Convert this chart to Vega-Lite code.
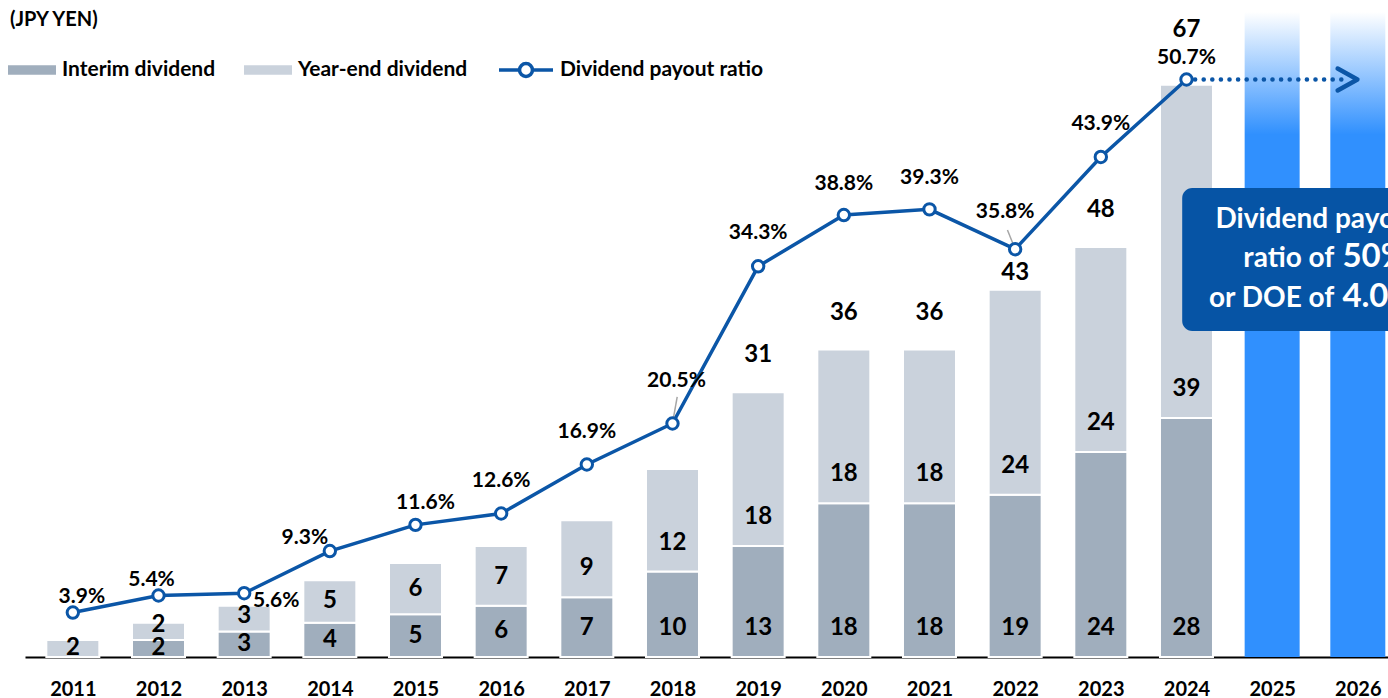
{
  "$schema": "https://vega.github.io/schema/vega-lite/v6.json",
  "width": 1363,
  "height": 647,
  "autosize": "none",
  "padding": {"left": 25, "top": 10, "right": 0, "bottom": 41},
  "background": "white",
  "config": {
    "font": "Lato",
    "view": {"stroke": null},
    "legend": {"labelFont": "Lato", "labelFontSize": 21, "labelFontWeight": "bold", "labelColor": "#000000", "labelLimit": 0}
  },
  "title": {"text": "(JPY YEN)", "anchor": "start", "frame": "group", "orient": "top", "fontSize": 20, "fontWeight": "bold", "color": "#000000", "dx": -15, "offset": 0, "baseline": "top", "dy": 20},
  "datasets": {
    "div": [
      {"year": 2011, "interim": 0, "yearend": 2, "ratio": 3.9},
      {"year": 2012, "interim": 2, "yearend": 2, "ratio": 5.4},
      {"year": 2013, "interim": 3, "yearend": 3, "ratio": 5.6},
      {"year": 2014, "interim": 4, "yearend": 5, "ratio": 9.3},
      {"year": 2015, "interim": 5, "yearend": 6, "ratio": 11.6},
      {"year": 2016, "interim": 6, "yearend": 7, "ratio": 12.6},
      {"year": 2017, "interim": 7, "yearend": 9, "ratio": 16.9},
      {"year": 2018, "interim": 10, "yearend": 12, "ratio": 20.5},
      {"year": 2019, "interim": 13, "yearend": 18, "ratio": 34.3},
      {"year": 2020, "interim": 18, "yearend": 18, "ratio": 38.8},
      {"year": 2021, "interim": 18, "yearend": 18, "ratio": 39.3},
      {"year": 2022, "interim": 19, "yearend": 24, "ratio": 35.8},
      {"year": 2023, "interim": 24, "yearend": 24, "ratio": 43.9},
      {"year": 2024, "interim": 28, "yearend": 39, "ratio": 50.7}
    ],
    "future": [{"year": 2025}, {"year": 2026}]
  },
  "encoding": {
    "x": {
      "field": "year", "type": "quantitative",
      "scale": {"domain": [2010.5, 2026.294], "nice": false, "zero": false},
      "axis": {
        "title": null, "values": [2011, 2012, 2013, 2014, 2015, 2016, 2017, 2018, 2019, 2020, 2021, 2022, 2023, 2024, 2025, 2026],
        "format": "d", "labelFontSize": 20, "labelFontWeight": "bold", "labelColor": "#000000", "labelFont": "Lato",
        "labelPadding": 22, "ticks": false, "grid": false, "domainColor": "#000000", "domainWidth": 2,
        "labelOverlap": false, "labelFlush": false, "labelBound": false
      }
    }
  },
  "layer": [
    {
      "layer": [
        {
          "data": {"name": "future"},
          "mark": {"type": "bar", "width": 55, "clip": true,
            "color": {"gradient": "linear", "x1": 0, "y1": 0, "x2": 0, "y2": 1,
              "stops": [{"offset": 0, "color": "#ffffff"}, {"offset": 0.19, "color": "#3090fe"}, {"offset": 1, "color": "#3090fe"}]}},
          "encoding": {
            "y": {"datum": 75.53, "type": "quantitative", "scale": {"domain": [0, 75.76], "nice": false, "zero": true}, "axis": null},
            "y2": {"datum": 0}
          }
        },
        {
          "data": {"name": "div"},
          "transform": [
            {"fold": ["interim", "yearend"], "as": ["type", "value"]},
            {"filter": "datum.value > 0"},
            {"stack": "value", "groupby": ["year"], "sort": [{"field": "type", "order": "ascending"}], "as": ["v0", "v1"]}
          ],
          "layer": [
            {
              "mark": {"type": "bar", "width": 53, "stroke": "white", "strokeWidth": 2},
              "encoding": {
                "y": {"field": "v1", "type": "quantitative", "scale": {"domain": [0, 75.76], "nice": false, "zero": true}, "axis": null},
                "y2": {"field": "v0"},
                "color": {
                  "field": "type", "type": "nominal",
                  "scale": {"domain": ["interim", "yearend"], "range": ["#a0aebd", "#cad2dc"]},
                  "legend": {
                    "orient": "none", "legendX": -17, "legendY": 36, "direction": "horizontal", "title": null,
                    "symbolType": "M-1,-0.2H1V0.2H-1Z", "symbolSize": 2304, "symbolStrokeWidth": 0, "symbolOpacity": 1,
                    "labelOffset": 6, "columnPadding": 28,
                    "labelExpr": "datum.label == 'interim' ? 'Interim dividend' : 'Year-end dividend'"
                  }
                }
              }
            },
            {
              "transform": [{"calculate": "datum.v0 > 0 ? datum.v0 + min(max((datum.v1 - datum.v0) / 2, 1.8), 3.4) : min(datum.v1 / 2, 3.4)", "as": "ly"}],
              "mark": {"type": "text", "fontSize": 24, "fontWeight": "bold", "baseline": "middle", "color": "#000000"},
              "encoding": {
                "y": {"field": "ly", "type": "quantitative", "scale": {"domain": [0, 75.76], "nice": false, "zero": true}, "axis": null},
                "text": {"field": "value", "type": "quantitative"}
              }
            }
          ]
        },
        {
          "data": {"name": "div"},
          "transform": [{"filter": "datum.year >= 2019"}, {"calculate": "datum.interim + datum.yearend", "as": "total"}],
          "mark": {"type": "text", "fontSize": 24, "fontWeight": "bold", "baseline": "middle", "color": "#000000",
            "dy": {"expr": "datum.year == 2022 ? -17 : datum.year == 2024 ? -55 : -37"}},
          "encoding": {
            "y": {"field": "total", "type": "quantitative", "scale": {"domain": [0, 75.76], "nice": false, "zero": true}, "axis": null},
            "text": {"field": "total", "type": "quantitative"}
          }
        }
      ]
    },
    {
      "layer": [
        {
          "data": {"name": "div"},
          "mark": {"type": "line", "strokeWidth": 3.5},
          "encoding": {
            "y": {"field": "ratio", "type": "quantitative", "scale": {"domain": [0, 56.8], "nice": false, "zero": true}, "axis": null},
            "stroke": {
              "datum": "Dividend payout ratio", "type": "nominal",
              "scale": {"range": ["#0b56a7"]},
              "legend": {
                "orient": "none", "legendX": 472, "legendY": 31, "title": null,
                "symbolType": "M-1,0H-0.24M0.24,0H1M-0.24,0A0.24,0.24 0 1,0 0.24,0A0.24,0.24 0 1,0 -0.24,0",
                "symbolSize": 2916, "symbolStrokeWidth": 3.5, "symbolFillColor": "white", "labelOffset": 5
              }
            }
          }
        },
        {
          "data": {"name": "future"},
          "transform": [{"filter": "datum.year == 2025"}],
          "mark": {"type": "rect", "cornerRadius": 10, "color": "#0654a5", "clip": true},
          "encoding": {
            "x": {"datum": 2023.95, "scale": {"domain": [2010.5, 2026.294], "nice": false, "zero": false}},
            "x2": {"datum": 2027},
            "y": {"datum": 41.18, "scale": {"domain": [0, 56.8], "nice": false, "zero": true}, "axis": null},
            "y2": {"datum": 28.62}
          }
        },
        {
          "data": {"name": "future"},
          "transform": [{"filter": "datum.year == 2025"}],
          "mark": {"type": "text", "text": "Dividend payout", "color": "white", "fontSize": 28, "fontWeight": "bold", "align": "center", "baseline": "alphabetic"},
          "encoding": {
            "x": {"datum": 2025.54, "scale": {"domain": [2010.5, 2026.294], "nice": false, "zero": false}},
            "y": {"datum": 37.66, "scale": {"domain": [0, 56.8], "nice": false, "zero": true}, "axis": null}
          }
        },
        {
          "data": {"name": "future"},
          "transform": [{"filter": "datum.year == 2025"}],
          "mark": {"type": "text", "text": "ratio of", "color": "white", "fontSize": 28, "fontWeight": "bold", "align": "right", "baseline": "alphabetic"},
          "encoding": {
            "x": {"datum": 2025.726, "scale": {"domain": [2010.5, 2026.294], "nice": false, "zero": false}},
            "y": {"datum": 34.24, "scale": {"domain": [0, 56.8], "nice": false, "zero": true}, "axis": null}
          }
        },
        {
          "data": {"name": "future"},
          "transform": [{"filter": "datum.year == 2025"}],
          "mark": {"type": "text", "text": "50%", "color": "white", "fontSize": 33, "fontWeight": "bold", "align": "left", "baseline": "alphabetic"},
          "encoding": {
            "x": {"datum": 2025.82, "scale": {"domain": [2010.5, 2026.294], "nice": false, "zero": false}},
            "y": {"datum": 34.24, "scale": {"domain": [0, 56.8], "nice": false, "zero": true}, "axis": null}
          }
        },
        {
          "data": {"name": "future"},
          "transform": [{"filter": "datum.year == 2025"}],
          "mark": {"type": "text", "text": "or DOE of", "color": "white", "fontSize": 28, "fontWeight": "bold", "align": "right", "baseline": "alphabetic"},
          "encoding": {
            "x": {"datum": 2025.726, "scale": {"domain": [2010.5, 2026.294], "nice": false, "zero": false}},
            "y": {"datum": 30.73, "scale": {"domain": [0, 56.8], "nice": false, "zero": true}, "axis": null}
          }
        },
        {
          "data": {"name": "future"},
          "transform": [{"filter": "datum.year == 2025"}],
          "mark": {"type": "text", "text": "4.0%", "color": "white", "fontSize": 33, "fontWeight": "bold", "align": "left", "baseline": "alphabetic"},
          "encoding": {
            "x": {"datum": 2025.82, "scale": {"domain": [2010.5, 2026.294], "nice": false, "zero": false}},
            "y": {"datum": 30.73, "scale": {"domain": [0, 56.8], "nice": false, "zero": true}, "axis": null}
          }
        },
        {
          "data": {"name": "future"},
          "transform": [{"filter": "datum.year == 2025"}],
          "mark": {"type": "rule", "color": "#a6a6a6", "strokeWidth": 1.5},
          "encoding": {
            "x": {"datum": 2018.055, "scale": {"domain": [2010.5, 2026.294], "nice": false, "zero": false}},
            "x2": {"datum": 2018.009},
            "y": {"datum": 22.83, "scale": {"domain": [0, 56.8], "nice": false, "zero": true}, "axis": null},
            "y2": {"datum": 20.9}
          }
        },
        {
          "data": {"name": "future"},
          "transform": [{"filter": "datum.year == 2025"}],
          "mark": {"type": "rule", "color": "#a6a6a6", "strokeWidth": 1.5},
          "encoding": {
            "x": {"datum": 2021.91, "scale": {"domain": [2010.5, 2026.294], "nice": false, "zero": false}},
            "x2": {"datum": 2021.99},
            "y": {"datum": 37.49, "scale": {"domain": [0, 56.8], "nice": false, "zero": true}, "axis": null},
            "y2": {"datum": 36.0}
          }
        },
        {
          "data": {"name": "future"},
          "transform": [{"filter": "datum.year == 2025"}],
          "mark": {"type": "rule", "color": "#0b56a7", "strokeWidth": 4.5, "strokeDash": [0.1, 8.5], "strokeCap": "round"},
          "encoding": {
            "x": {"datum": 2024.1, "scale": {"domain": [2010.5, 2026.294], "nice": false, "zero": false}},
            "x2": {"datum": 2025.85},
            "y": {"datum": 50.7, "scale": {"domain": [0, 56.8], "nice": false, "zero": true}, "axis": null}
          }
        },
        {
          "data": {"name": "future"},
          "transform": [{"filter": "datum.year == 2025"}],
          "mark": {"type": "point", "shape": "M-0.9,-1L0.9,0L-0.9,1", "size": 484, "filled": false, "color": "#0b56a7", "strokeWidth": 4.5, "strokeCap": "round", "strokeJoin": "round", "opacity": 1},
          "encoding": {
            "x": {"datum": 2025.88, "scale": {"domain": [2010.5, 2026.294], "nice": false, "zero": false}},
            "y": {"datum": 50.7, "scale": {"domain": [0, 56.8], "nice": false, "zero": true}, "axis": null}
          }
        },
        {
          "data": {"name": "div"},
          "mark": {"type": "point", "shape": "circle", "size": 130, "filled": true, "fill": "white", "stroke": "#0b56a7", "strokeWidth": 3, "opacity": 1},
          "encoding": {
            "y": {"field": "ratio", "type": "quantitative", "scale": {"domain": [0, 56.8], "nice": false, "zero": true}, "axis": null}
          }
        },
        {
          "data": {"name": "div"},
          "transform": [{"calculate": "format(datum.ratio, '.1f') + '%'", "as": "lbl"}],
          "mark": {"type": "text", "fontSize": 21, "fontWeight": "bold", "baseline": "middle", "color": "#000000",
            "dx": {"expr": "datum.year == 2011 ? 9 : datum.year == 2012 ? -7 : datum.year == 2013 ? 32 : datum.year == 2014 ? -25 : datum.year == 2015 ? 10 : datum.year == 2018 ? 4 : datum.year == 2022 ? -10 : 0"},
            "dy": {"expr": "datum.year == 2011 ? -16 : datum.year == 2012 ? -15 : datum.year == 2013 ? 8 : datum.year == 2014 ? -13 : datum.year == 2015 ? -22 : datum.year == 2018 ? -42 : datum.year == 2022 ? -37 : datum.year == 2024 ? -21 : (datum.year == 2020 || datum.year == 2021) ? -31 : (datum.year == 2016 || datum.year == 2017) ? -32 : -33"}},
          "encoding": {
            "y": {"field": "ratio", "type": "quantitative", "scale": {"domain": [0, 56.8], "nice": false, "zero": true}, "axis": null},
            "text": {"field": "lbl", "type": "nominal"}
          }
        }
      ]
    }
  ],
  "resolve": {"scale": {"y": "independent"}}
}
